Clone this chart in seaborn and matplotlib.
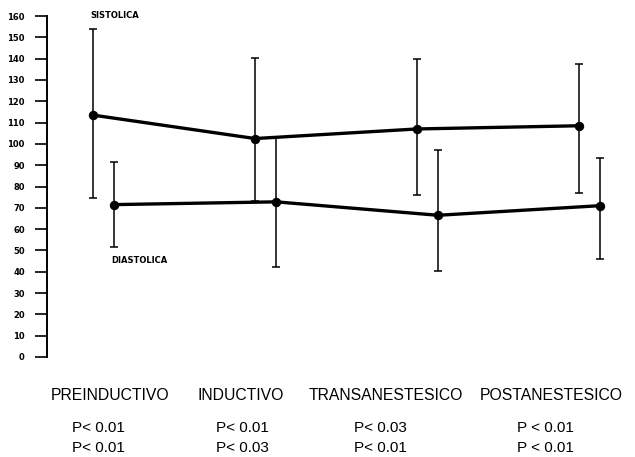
import numpy as np
import pandas as pd
import matplotlib
matplotlib.use("Agg")
import matplotlib.pyplot as plt
import seaborn as sns

# values (mmHg)
fases = ["PREINDUCTIVO", "INDUCTIVO", "TRANSANESTESICO", "POSTANESTESICO"]
sistolica = [113.5, 102.5, 107.0, 108.5]
sistolica_sup = [154.0, 140.5, 140.0, 137.5]
sistolica_inf = [74.5, 73.0, 76.0, 77.0]
diastolica = [71.5, 72.8, 66.5, 71.0]
diastolica_sup = [91.5, 103.0, 97.0, 93.5]
diastolica_inf = [51.5, 42.0, 40.5, 46.0]
p_sistolica = ["P< 0.01", "P< 0.01", "P< 0.03", "P < 0.01"]
p_diastolica = ["P< 0.01", "P< 0.03", "P< 0.01", "P < 0.01"]
y_ticks = list(range(0, 161, 10))

sns.set_theme(style="white")
plt.rcParams["font.family"] = ["Liberation Sans", "DejaVu Sans"]

# long form table for seaborn
idx = np.arange(len(fases))
dodge = {"SISTOLICA": 0.0, "DIASTOLICA": 0.13}
df = pd.concat([
    pd.DataFrame({"fase": fases, "serie": "SISTOLICA", "valor": sistolica,
                  "sup": sistolica_sup, "inf": sistolica_inf, "i": idx}),
    pd.DataFrame({"fase": fases, "serie": "DIASTOLICA", "valor": diastolica,
                  "sup": diastolica_sup, "inf": diastolica_inf, "i": idx}),
], ignore_index=True)
df["x"] = df["i"] + df["serie"].map(dodge)

fig = plt.figure(figsize=(6.35, 4.57), dpi=100)
ax = fig.add_axes([47 / 635, 100 / 457, 588 / 635, 341 / 457])

sns.lineplot(data=df, x="x", y="valor", hue="serie", palette=["black", "black"],
             marker="o", markersize=6, markeredgecolor="black", lw=2.4,
             legend=False, ax=ax)

for _, g in df.groupby("serie"):
    ax.errorbar(g["x"], g["valor"],
                yerr=[g["valor"] - g["inf"], g["sup"] - g["valor"]],
                fmt="none", ecolor="black", elinewidth=1.1, capsize=3,
                capthick=1.1)

ax.set_xlim(-0.284, 3.346)
ax.set_ylim(0, 160)
ax.set_yticks(y_ticks)
ax.set_yticklabels([str(v) for v in y_ticks], fontsize=6, fontweight="bold",
                   family="DejaVu Sans")
ax.tick_params(axis="y", direction="out", length=9, width=1.2, pad=7,
               left=True, colors="black")
ax.set_xticks([])
ax.set_xlabel("")
ax.set_ylabel("")
for side in ["top", "right", "bottom"]:
    ax.spines[side].set_visible(False)
ax.spines["left"].set_color("black")
ax.spines["left"].set_linewidth(1.4)
ax.spines["left"].set_bounds(0, 160)
ax.patch.set_alpha(0)

ax.text(-0.019, 160, "SISTOLICA", fontsize=6, fontweight="bold",
        family="DejaVu Sans", va="center", ha="left", color="black")
ax.text(0.111, 45.5, "DIASTOLICA", fontsize=6, fontweight="bold",
        family="DejaVu Sans", va="center", ha="left", color="black")

# phase names and p values below the chart
label_x = [110, 241, 386, 551]
p_x = [98, 242, 380, 545]
for lx, px, nombre, ps, pd_ in zip(label_x, p_x, fases, p_sistolica, p_diastolica):
    fig.text(lx / 635, 1 - 395 / 457, nombre, fontsize=11.3, ha="center",
             va="center", color="black")
    fig.text(px / 635, 1 - 428 / 457, ps, fontsize=11, ha="center",
             va="center", color="black")
    fig.text(px / 635, 1 - 448 / 457, pd_, fontsize=11, ha="center",
             va="center", color="black")

fig.savefig("out.png", dpi=100)
